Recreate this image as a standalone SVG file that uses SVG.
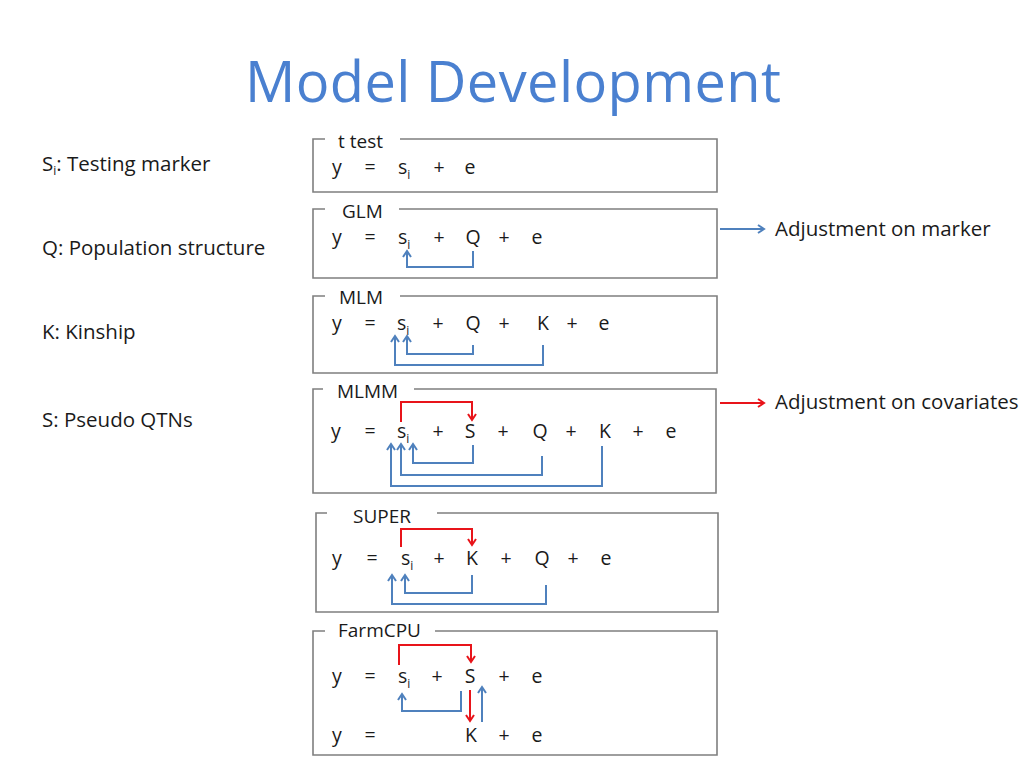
<svg xmlns="http://www.w3.org/2000/svg" width="1024" height="768" viewBox="0 0 1024 768">
<defs>
<style>
text{font-family:"Open Sans","Liberation Sans",sans-serif;fill:#1a1a1a}
.title{font-size:56px;fill:#4a80d0}
.lbl{font-size:20.5px}
.bt{font-size:19px}
.eq{font-size:19.5px;text-anchor:middle}
.s{font-size:19.5px}
.sub{font-size:12px}
.box{fill:none;stroke:#7f7f7f;stroke-width:1.6}
.b{fill:none;stroke:#4f81bd;stroke-width:2}
.r{fill:none;stroke:#e8141a;stroke-width:2}
</style>
<marker id="ab" markerUnits="userSpaceOnUse" markerWidth="12" markerHeight="12" refX="7" refY="5" orient="auto" overflow="visible"><path d="M1,1 L7,5 L1,9" fill="none" stroke="#4f81bd" stroke-width="2"/></marker>
<marker id="ar" markerUnits="userSpaceOnUse" markerWidth="12" markerHeight="12" refX="7" refY="5" orient="auto" overflow="visible"><path d="M1,1 L7,5 L1,9" fill="none" stroke="#e8141a" stroke-width="2"/></marker>
</defs>
<rect width="1024" height="768" fill="#fff"/>
<text class="title" x="245" y="102" textLength="536">Model Development</text>

<g id="legend">
<text class="lbl" x="42" y="171">S<tspan class="sub" dy="4">i</tspan><tspan dy="-4">: Testing marker</tspan></text>
<text class="lbl" x="42" y="255">Q: Population structure</text>
<text class="lbl" x="42" y="339">K: Kinship</text>
<text class="lbl" x="42" y="427">S: Pseudo QTNs</text>
</g>

<g id="ttest">
<path class="box" d="M325,139 H313 V192 H717 V139 H400"/>
<text class="bt" x="338" y="148">t test</text>
<text class="eq" x="337" y="174">y</text><text class="eq" x="370" y="174">=</text>
<text class="s" x="398" y="174">s<tspan class="sub" dy="5">i</tspan></text>
<text class="eq" x="439" y="174">+</text><text class="eq" x="470" y="174">e</text>
</g>

<g id="glm">
<path class="box" d="M325,209 H313 V278 H717 V209 H399"/>
<text class="bt" x="342" y="218">GLM</text>
<text class="eq" x="337" y="244">y</text><text class="eq" x="370" y="244">=</text>
<text class="s" x="398" y="244">s<tspan class="sub" dy="5">i</tspan></text>
<text class="eq" x="439" y="244">+</text><text class="eq" x="473" y="244">Q</text>
<text class="eq" x="504" y="244">+</text><text class="eq" x="537" y="244">e</text>
</g>

<g id="mlm">
<path class="box" d="M325,296 H313 V373 H717 V296 H400"/>
<text class="bt" x="339" y="304">MLM</text>
<text class="eq" x="337" y="330">y</text><text class="eq" x="370" y="330">=</text>
<text class="s" x="397" y="330">s<tspan class="sub" dy="5">i</tspan></text>
<text class="eq" x="438" y="330">+</text><text class="eq" x="473" y="330">Q</text>
<text class="eq" x="504" y="330">+</text><text class="eq" x="543" y="330">K</text>
<text class="eq" x="572" y="330">+</text><text class="eq" x="604" y="330">e</text>
</g>

<g id="mlmm">
<path class="box" d="M323,389 H313 V493 H716 V389 H414"/>
<text class="bt" x="337" y="398">MLMM</text>
<text class="eq" x="336" y="438">y</text><text class="eq" x="370" y="438">=</text>
<text class="s" x="397" y="438">s<tspan class="sub" dy="5">i</tspan></text>
<text class="eq" x="438" y="438">+</text><text class="eq" x="470" y="438">S</text>
<text class="eq" x="503" y="438">+</text><text class="eq" x="540" y="438">Q</text>
<text class="eq" x="571" y="438">+</text><text class="eq" x="605" y="438">K</text>
<text class="eq" x="638" y="438">+</text><text class="eq" x="671" y="438">e</text>
</g>

<g id="super">
<path class="box" d="M327,513 H316 V612 H718 V513 H437"/>
<text class="bt" x="353" y="523">SUPER</text>
<text class="eq" x="337" y="565">y</text><text class="eq" x="372" y="565">=</text>
<text class="s" x="401" y="565">s<tspan class="sub" dy="5">i</tspan></text>
<text class="eq" x="439" y="565">+</text><text class="eq" x="472" y="565">K</text>
<text class="eq" x="506" y="565">+</text><text class="eq" x="542" y="565">Q</text>
<text class="eq" x="573" y="565">+</text><text class="eq" x="606" y="565">e</text>
</g>

<g id="farmcpu">
<path class="box" d="M325,631 H313 V755 H717 V631 H435"/>
<text class="bt" x="338" y="637">FarmCPU</text>
<text class="eq" x="337" y="683">y</text><text class="eq" x="370" y="683">=</text>
<text class="s" x="398" y="683">s<tspan class="sub" dy="5">i</tspan></text>
<text class="eq" x="437" y="683">+</text><text class="eq" x="470" y="683">S</text>
<text class="eq" x="504" y="683">+</text><text class="eq" x="537" y="683">e</text>
<text class="eq" x="337" y="742">y</text><text class="eq" x="370" y="742">=</text>
<text class="eq" x="471" y="742">K</text>
<text class="eq" x="504" y="742">+</text><text class="eq" x="537" y="742">e</text>
</g>

<g id="notes">
<text class="lbl" x="775" y="236">Adjustment on marker</text>
<text class="lbl" x="775" y="409">Adjustment on covariates</text>
</g>

<g id="connectors">
<path class="b" marker-end="url(#ab)" d="M720,229 H764"/>
<path class="r" marker-end="url(#ar)" d="M720,403 H764"/>
<path class="b" marker-end="url(#ab)" d="M473,251 V267 H407 V251"/>
<path class="b" marker-end="url(#ab)" d="M473,345 V354 H407 V336"/>
<path class="b" marker-end="url(#ab)" d="M543,345 V365 H395 V336"/>
<path class="r" marker-end="url(#ar)" d="M401,422 V402 H472 V420"/>
<path class="b" marker-end="url(#ab)" d="M473,445 V463 H413 V444"/>
<path class="b" marker-end="url(#ab)" d="M542,456 V475 H401 V444"/>
<path class="b" marker-end="url(#ab)" d="M602,446 V486 H391 V444"/>
<path class="r" marker-end="url(#ar)" d="M401,547 V529 H472 V545"/>
<path class="b" marker-end="url(#ab)" d="M472,575 V593 H405 V575"/>
<path class="b" marker-end="url(#ab)" d="M546,585 V604 H392 V575"/>
<path class="r" marker-end="url(#ar)" d="M399,665 V645 H471 V662"/>
<path class="b" marker-end="url(#ab)" d="M461,691 V711 H402 V694"/>
<path class="r" marker-end="url(#ar)" d="M470,690 V721"/>
<path class="b" marker-end="url(#ab)" d="M482,722 V687"/>
</g>
</svg>
